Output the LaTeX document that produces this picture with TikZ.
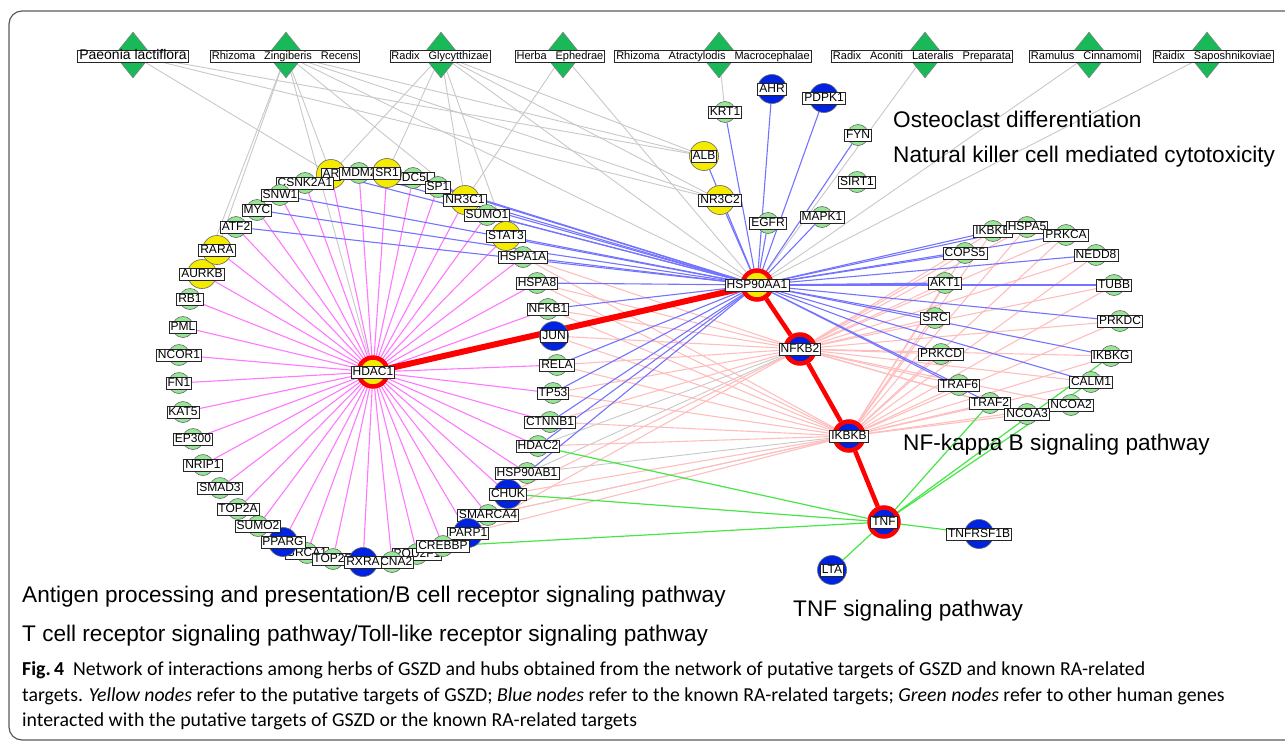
\documentclass[tikz,border=0pt]{standalone}
\usepackage{fontspec}
\setmainfont{Liberation Sans}
\newfontfamily\capfont{Carlito}
\usetikzlibrary{shapes.geometric,backgrounds}

\definecolor{herbgreen}{RGB}{25,185,90}
\definecolor{genegreen}{RGB}{150,230,150}
\definecolor{geneyellow}{RGB}{245,235,0}
\definecolor{geneblue}{RGB}{0,35,225}
\definecolor{hdacpink}{RGB}{255,120,255}
\definecolor{hspblue}{RGB}{115,115,255}
\definecolor{nfkbpink}{RGB}{255,190,190}
\definecolor{herbgray}{RGB}{200,200,200}
\definecolor{tnfgreen}{RGB}{70,230,70}
\definecolor{framegray}{RGB}{90,90,90}

\tikzset{
  gdot/.style={circle,draw=black!60,line width=0.6pt,fill=genegreen,inner sep=0pt,minimum size=21pt},
  ydot/.style={gdot,fill=geneyellow,minimum size=29pt},
  bdot/.style={gdot,fill=geneblue,minimum size=29pt},
  hub/.style={circle,draw=red,line width=4.5pt,inner sep=0pt,minimum size=29pt},
  tag/.style={draw=black!85,fill=white,line width=0.7pt,inner xsep=1.5pt,inner ysep=0.6pt,
    text height=9pt,text depth=1.5pt,font=\fontsize{12}{12}\selectfont},
  herb/.style={diamond,draw=black!50,line width=0.5pt,fill=herbgreen,inner sep=0pt,
    minimum width=37pt,minimum height=46pt},
  herbtag/.style={tag,font=\fontsize{11}{11}\selectfont},
  pwaytext/.style={anchor=west,inner sep=0pt,font=\fontsize{22.6}{24}\selectfont},
  captext/.style={anchor=west,inner sep=0pt,font=\capfont\fontsize{19.8}{22}\selectfont},
  herbedge/.style={herbgray,line width=0.9pt},
  hdacedge/.style={hdacpink,line width=1.1pt},
  hspedge/.style={hspblue,line width=1.1pt},
  nfkbedge/.style={nfkbpink,line width=1.1pt},
  tnfedge/.style={tnfgreen,line width=1.2pt},
  hubedge/.style={red,line width=4.5pt}
}

% gene = dot with a boxed name on top of it
\newcommand{\gene}[4]{\node[#3] (#1) at (#2) {}; \node[tag] (#1-t) at (#1) {#4};}
\newcommand{\hubgene}[4]{\node[hub,fill=#3] (#1) at (#2) {}; \node[tag] (#1-t) at (#1) {#4};}
\newcommand{\hgap}{\hspace{9pt}}

\begin{document}
\begin{tikzpicture}[x=1pt,y=-1pt]
\useasboundingbox (0,0) rectangle (1285,742);
\draw[framegray,line width=1.2pt,rounded corners=13pt] (1285,11) -- (9,11) -- (9,740) -- (1285,740);

% herbs
\node[herb] (paeonia) at (133,55) {};
\node[herbtag,font=\fontsize{14}{14}\selectfont] (paeonia-t) at (133,56) {Paeonia lactiflora};
\node[herb] (zingiberis) at (286,55) {};
\node[herbtag] (zingiberis-t) at (285,56) {Rhizoma\hgap Zingiberis\hgap Recens};
\node[herb] (glycy) at (441,55) {};
\node[herbtag] (glycy-t) at (440,56) {Radix\hgap Glycytthizae};
\node[herb] (ephedrae) at (563,55) {};
\node[herbtag] (ephedrae-t) at (560,56) {Herba\hgap Ephedrae};
\node[herb] (atracty) at (719,55) {};
\node[herbtag] (atracty-t) at (713,56) {Rhizoma\hgap Atractylodis\hgap Macrocephalae};
\node[herb] (aconiti) at (925,55) {};
\node[herbtag] (aconiti-t) at (922,56) {Radix\hgap Aconiti\hgap Lateralis\hgap Preparata};
\node[herb] (cinnamomi) at (1089,55) {};
\node[herbtag] (cinnamomi-t) at (1085,56) {Ramulus\hgap Cinnamomi};
\node[herb] (saposh) at (1207,55) {};
\node[herbtag] (saposh-t) at (1213,56) {Raidix\hgap Saposhnikoviae};

% hubs
\hubgene{hdac1}{373,372}{geneyellow}{HDAC1}
\hubgene{hsp90aa1}{757,285}{geneyellow}{HSP90AA1}
\hubgene{nfkb2}{800,349}{geneblue}{NFKB2}
\hubgene{ikbkb}{849,436}{geneblue}{IKBKB}
\hubgene{tnf}{884,522}{geneblue}{TNF}

% targets above HSP90AA1
\gene{krt1}{725,112}{gdot}{KRT1}
\gene{ahr}{772,89}{bdot}{AHR}
\gene{pdpk1}{824,98}{bdot}{PDPK1}
\gene{fyn}{858,135}{gdot}{FYN}
\gene{alb}{704,156}{ydot}{ALB}
\gene{sirt1}{857,182}{gdot}{SIRT1}
\gene{nr3c2}{720,200}{ydot}{NR3C2}
\gene{egfr}{768,223}{gdot}{EGFR}
\gene{mapk1}{822,217}{gdot}{MAPK1}

% right ring
\gene{ikbke}{993,231}{gdot}{IKBKE}
\gene{hspa5}{1027,227}{gdot}{HSPA5}
\gene{prkca}{1066,235}{gdot}{PRKCA}
\gene{cops5}{965,253}{gdot}{COPS5}
\gene{nedd8}{1096,255}{gdot}{NEDD8}
\gene{akt1}{945,283}{gdot}{AKT1}
\gene{tubb}{1114,285}{gdot}{TUBB}
\gene{src}{935,318}{gdot}{SRC}
\gene{prkdc}{1120,321}{gdot}{PRKDC}
\gene{prkcd}{941,354}{gdot}{PRKCD}
\gene{ikbkg}{1111,356}{gdot}{IKBKG}
\gene{traf6}{959,385}{gdot}{TRAF6}
\gene{calm1}{1091,382}{gdot}{CALM1}
\gene{traf2}{990,403}{gdot}{TRAF2}
\gene{ncoa2}{1071,405}{gdot}{NCOA2}
\gene{ncoa3}{1027,414}{gdot}{NCOA3}

% TNF neighbours
\gene{tnfrsf1b}{979,534}{bdot}{TNFRSF1B}
\gene{lta}{832,570}{bdot}{LTA}

% left ring round HDAC1
\gene{ar}{331,174}{ydot}{AR}
\gene{cdc5l}{413,178}{gdot}{CDC5L}
\gene{csnk2a1}{305,183}{gdot}{CSNK2A1}
\gene{mdm2}{359,173}{gdot}{MDM2}
\gene{sr1}{387,173}{ydot}{SR1}
\gene{sp1}{438,187}{gdot}{SP1}
\gene{nr3c1}{465,200}{ydot}{NR3C1}
\gene{sumo1}{487,215}{gdot}{SUMO1}
\gene{stat3}{506,236}{ydot}{STAT3}
\gene{hspa1a}{523,257}{gdot}{HSPA1A}
\gene{hspa8}{537,283}{gdot}{HSPA8}
\gene{nfkb1}{548,309}{gdot}{NFKB1}
\gene{jun}{554,336}{bdot}{JUN}
\gene{rela}{557,365}{gdot}{RELA}
\gene{tp53}{553,393}{gdot}{TP53}
\gene{ctnnb1}{550,422}{gdot}{CTNNB1}
\gene{hdac2}{538,446}{gdot}{HDAC2}
\gene{hsp90ab1}{527,473}{gdot}{HSP90AB1}
\gene{chuk}{508,494}{bdot}{CHUK}
\gene{smarca4}{488,515}{gdot}{SMARCA4}
\gene{parp1}{468,533}{bdot}{PARP1}
\gene{pou2f1}{417,554}{gdot}{POU2F1}
\gene{crebbp}{443,546}{gdot}{CREBBP}
\gene{brca1}{307,553}{gdot}{BRCA1}
\gene{top2b}{333,559}{gdot}{TOP2B}
\gene{ccna2}{392,562}{gdot}{CCNA2}
\gene{rxra}{363,562}{bdot}{RXRA}
\gene{pparg}{283,542}{bdot}{PPARG}
\gene{sumo2}{258,526}{gdot}{SUMO2}
\gene{top2a}{238,509}{gdot}{TOP2A}
\gene{smad3}{220,488}{gdot}{SMAD3}
\gene{nrip1}{203,465}{gdot}{NRIP1}
\gene{ep300}{193,439}{gdot}{EP300}
\gene{kat5}{183,412}{gdot}{KAT5}
\gene{fn1}{179,383}{gdot}{FN1}
\gene{ncor1}{179,355}{gdot}{NCOR1}
\gene{pml}{183,327}{gdot}{PML}
\gene{rb1}{190,299}{gdot}{RB1}
\gene{aurkb}{202,274}{ydot}{AURKB}
\gene{rara}{217,250}{ydot}{RARA}
\gene{atf2}{236,227}{gdot}{ATF2}
\gene{myc}{257,210}{gdot}{MYC}
\gene{snw1}{280,195}{gdot}{SNW1}

% links, kept under the nodes
\begin{pgfonlayer}{background}
\draw[herbedge] (paeonia) edge (alb) edge (nr3c2) edge (ar);
\draw[herbedge] (zingiberis) edge (ar) edge (rara) edge (aurkb) edge (hdac1) edge (nr3c1) edge (alb) edge (nr3c2) edge (hsp90aa1);
\draw[herbedge] (glycy) edge (ar) edge (sr1) edge (nr3c1) edge (stat3) edge (alb) edge (nr3c2) edge (hsp90aa1);
\draw[herbedge] (ephedrae) edge (nr3c1) edge (hsp90aa1);
\draw[herbedge] (atracty) edge (krt1);
\draw[herbedge] (aconiti) edge (hsp90aa1);
\draw[herbedge] (cinnamomi) edge (hsp90aa1);
\draw[herbedge] (saposh) edge (hsp90aa1);
\draw[herbedge] (nfkb2) edge (hdac2) edge (hsp90ab1);
\draw[herbedge] (ikbkb) edge (smarca4) edge (hsp90ab1);

\draw[hdacedge] (hdac1) edge (ar) edge (mdm2) edge (sr1) edge (cdc5l) edge (sp1) edge (nr3c1)
  edge (sumo1) edge (stat3) edge (hspa1a) edge (hspa8) edge (nfkb1) edge (rela) edge (tp53)
  edge (ctnnb1) edge (hdac2) edge (hsp90ab1) edge (chuk) edge (smarca4) edge (parp1)
  edge (crebbp) edge (pou2f1) edge (ccna2) edge (rxra) edge (top2b) edge (brca1) edge (pparg)
  edge (sumo2) edge (top2a) edge (smad3) edge (nrip1) edge (ep300) edge (kat5) edge (fn1)
  edge (ncor1) edge (pml) edge (rb1) edge (aurkb) edge (rara) edge (atf2) edge (myc)
  edge (snw1) edge (csnk2a1);

\draw[nfkbedge] (nfkb2) edge (hspa1a) edge (hspa8) edge (nfkb1) edge (jun) edge (rela) edge (tp53)
  edge (ctnnb1) edge (chuk) edge (parp1)
  edge (ikbke) edge (hspa5) edge (prkca) edge (cops5) edge (nedd8) edge (akt1) edge (tubb)
  edge (src) edge (prkdc) edge (prkcd) edge (ikbkg) edge (traf6) edge (calm1) edge (traf2)
  edge (ncoa3) edge (ncoa2);
\draw[nfkbedge] (ikbkb) edge (hspa1a) edge (hspa8) edge (nfkb1) edge (jun) edge (rela) edge (tp53)
  edge (ctnnb1) edge (hdac2) edge (chuk) edge (smarca4) edge (parp1)
  edge (ikbke) edge (hspa5) edge (prkca) edge (cops5) edge (nedd8) edge (akt1) edge (tubb)
  edge (src) edge (prkdc) edge (prkcd) edge (ikbkg) edge (traf6) edge (calm1) edge (traf2)
  edge (ncoa3) edge (ncoa2);

\draw[hspedge] (hsp90aa1) edge (krt1) edge (ahr) edge (pdpk1) edge (fyn) edge (alb) edge (nr3c2)
  edge (egfr) edge (mapk1)
  edge (ar) edge (mdm2) edge (snw1) edge (myc) edge (atf2) edge (cdc5l) edge (sp1) edge (nr3c1)
  edge (sumo1) edge (stat3) edge (hspa1a) edge (hspa8) edge (nfkb1) edge (rela) edge (tp53)
  edge (ctnnb1) edge (hdac2) edge (hsp90ab1)
  edge (ikbke) edge (hspa5) edge (prkca) edge (cops5) edge (nedd8) edge (akt1) edge (tubb)
  edge (src) edge (prkdc) edge (prkcd) edge (ikbkg) edge (traf6) edge (calm1) edge (traf2);

\draw[tnfedge] (tnf) edge (hdac2) edge (chuk) edge (crebbp) edge (traf2) edge (calm1) edge (ikbkg)
  edge (tnfrsf1b) edge (lta);

\draw[hubedge,line width=6pt] (hdac1) -- (hsp90aa1);
\draw[hubedge] (hsp90aa1) -- (nfkb2);
\draw[hubedge] (nfkb2) -- (ikbkb);
\draw[hubedge] (ikbkb) -- (tnf);
\end{pgfonlayer}

% pathway names
\node[pwaytext] (osteo) at (893,119) {Osteoclast differentiation};
\node[pwaytext] (nkcell) at (893,157) {Natural killer cell mediated cytotoxicity};
\node[pwaytext] (nfkbway) at (903,445) {NF-kappa B signaling pathway};
\node[pwaytext] (tnfway) at (793,611) {TNF signaling pathway};
\node[pwaytext] (antigen) at (22,597) {Antigen processing and presentation/B cell receptor signaling pathway};
\node[pwaytext] (tcell) at (22,636) {T cell receptor signaling pathway/Toll-like receptor signaling pathway};

% caption
\node[captext] (cap1) at (22,670) {\textbf{Fig.\,4}\hspace{9pt}Network of interactions among herbs of GSZD and hubs obtained from the network of putative targets of GSZD and known RA-related};
\node[captext] (cap2) at (22,696) {targets. \textit{Yellow nodes} refer to the putative targets of GSZD; \textit{Blue nodes} refer to the known RA-related targets; \textit{Green nodes} refer to other human genes};
\node[captext] (cap3) at (22,721) {interacted with the putative targets of GSZD or the known RA-related targets};
\end{tikzpicture}
\end{document}
